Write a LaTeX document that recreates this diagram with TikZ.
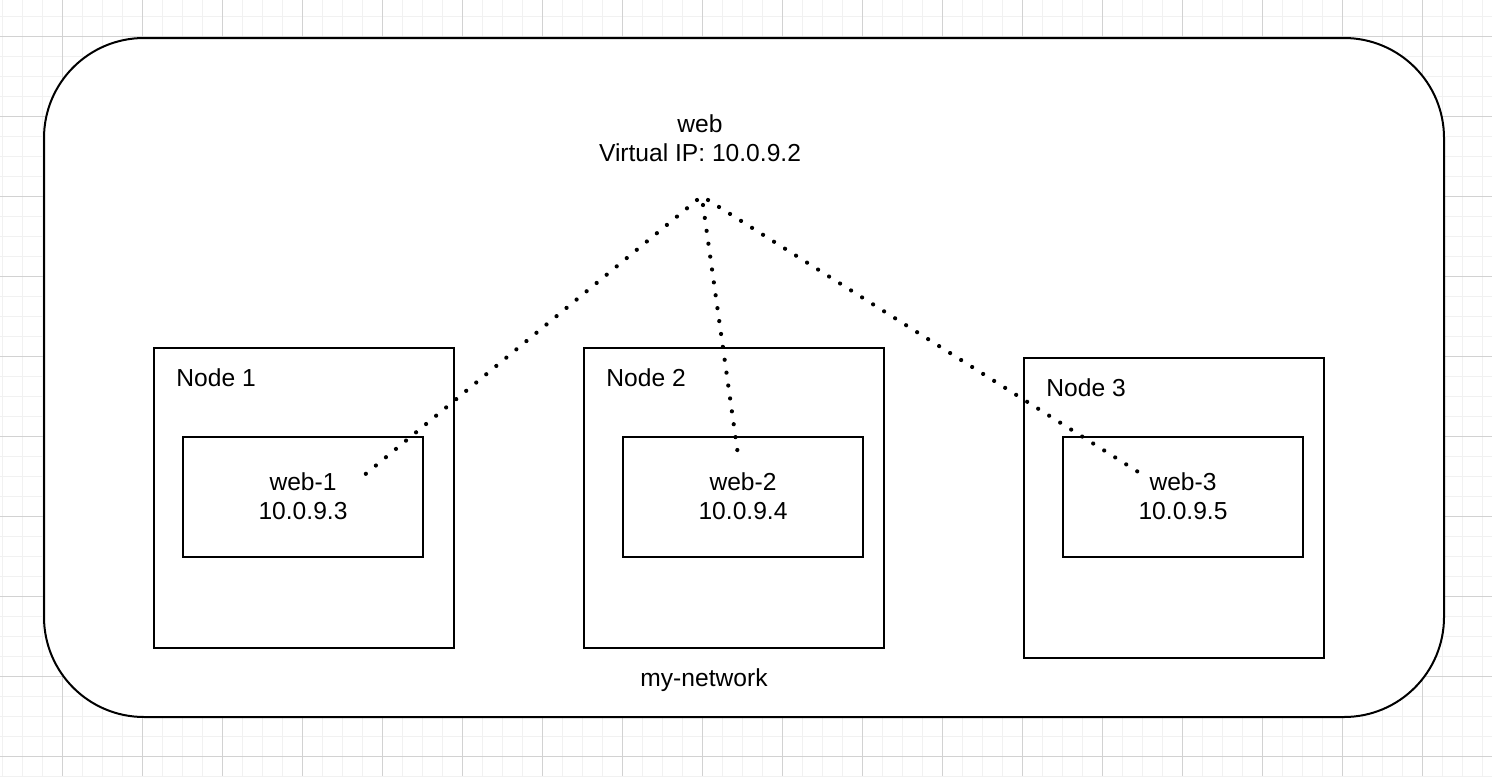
\documentclass[tikz,border=0pt]{standalone}
\usepackage{fontspec}
\setmainfont{Liberation Sans}
\usepackage{tikz}
\usetikzlibrary{positioning}
\usepackage{xcolor}
\definecolor{GridMinor}{HTML}{F1F1F1}
\definecolor{GridMajor}{HTML}{D2D2D2}
\definecolor{Ink}{HTML}{000000}

\begin{document}
\begin{tikzpicture}[
    x=0.5pt, y=-0.5pt,
    every node/.style={font=\fontsize{12.3}{14.5}\selectfont, text=Ink},
    netbox/.style={draw=Ink, line width=1pt, fill=white, rounded corners=50pt, minimum width=700pt, minimum height=339.5pt, inner sep=0pt},
    hostbox/.style={draw=Ink, line width=1pt, fill=white, minimum width=150pt, minimum height=150pt, inner sep=0pt},
    taskbox/.style={draw=Ink, line width=1pt, fill=white, minimum width=120pt, minimum height=60pt, align=center, inner sep=0pt},
    hostlabel/.style={anchor=west, inner sep=0pt},
    vlink/.style={draw=Ink, line width=2.1pt, line cap=round, dash pattern=on 0.01pt off 6.5pt}
]
\useasboundingbox (0,0) rectangle (1492,776);

% Background grid
\foreach \x in {2,22,...,1492} \draw[GridMinor, line width=0.5pt] (\x,0) -- (\x,776);
\foreach \y in {16,36,...,776} \draw[GridMinor, line width=0.5pt] (0,\y) -- (1492,\y);
\foreach \x in {62,142,...,1492} \draw[GridMajor, line width=0.5pt] (\x,0) -- (\x,776);
\foreach \y in {36,116,...,776} \draw[GridMajor, line width=0.5pt] (0,\y) -- (1492,\y);

% Overlay network
\node[netbox, anchor=north west] (net) at (43,37) {};
\node (netlabel) at ([xshift=-20pt, yshift=19pt]net.south) {my-network};

% Service with virtual IP
\node[align=center] (vip) at (700,138) {web\\Virtual IP: 10.0.9.2};

% Hosts
\node[hostbox, anchor=north west] (n1) at (153,347) {};
\node[hostbox, anchor=north west] (n2) at (583,347) {};
\node[hostbox, anchor=north west] (n3) at (1023,357) {};
\node[hostlabel] (n1label) at ([xshift=11.5pt, yshift=-15.5pt]n1.north west) {Node 1};
\node[hostlabel] (n2label) at ([xshift=11.5pt, yshift=-15.5pt]n2.north west) {Node 2};
\node[hostlabel] (n3label) at ([xshift=11.5pt, yshift=-15.5pt]n3.north west) {Node 3};

% Tasks
\node[taskbox] (t1) at (303,496.5) {web-1\\10.0.9.3};
\node[taskbox] (t2) at (743,496.5) {web-2\\10.0.9.4};
\node[taskbox] (t3) at (1183,496.5) {web-3\\10.0.9.5};

% Load balancing links
\coordinate (vip1) at (697,200);
\coordinate (vip2) at (703,205);
\coordinate (vip3) at (708,200);
\coordinate (t1end) at (362,477);
\coordinate (t2end) at (738,455);
\coordinate (t3end) at (1143,475);
\draw[vlink] (vip1) -- (t1end);
\draw[vlink] (vip2) -- (t2end);
\draw[vlink] (vip3) -- (t3end);

\end{tikzpicture}
\end{document}
